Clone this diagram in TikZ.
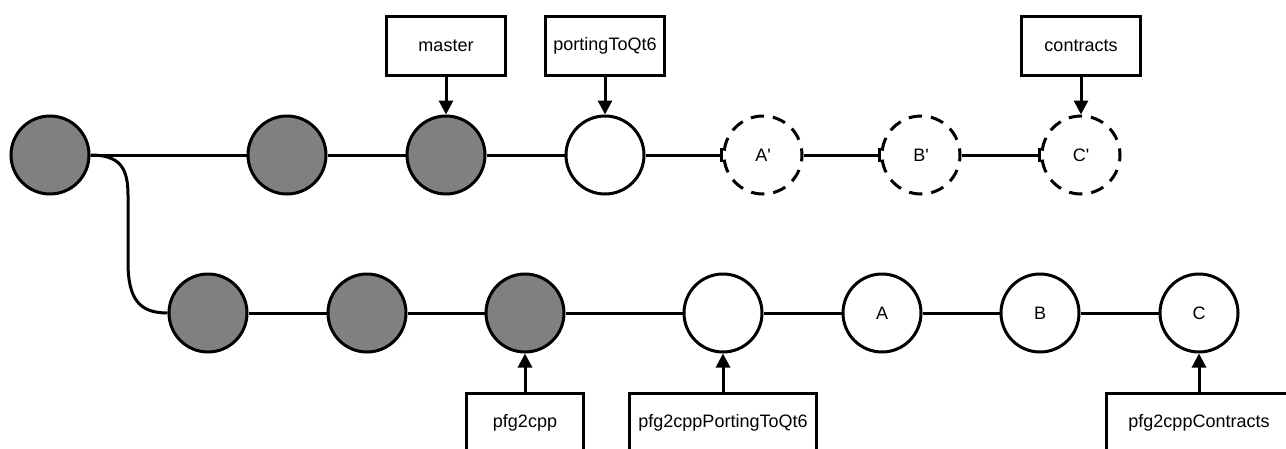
\documentclass[tikz,border=0pt]{standalone}
\usepackage{fontspec}
\setmainfont{Liberation Sans}
\usetikzlibrary{arrows.meta}
\definecolor{donegray}{HTML}{808080}
\begin{document}
\begin{tikzpicture}[x=1pt,y=-1pt,
  label font/.style={font=\fontsize{18}{21}\selectfont},
  commit/.style={circle,draw,line width=3pt,minimum size=78pt,inner sep=0pt,label font},
  done/.style={commit,fill=donegray},
  fresh/.style={commit,fill=white},
  planned/.style={commit,fill=white,dash pattern=on 13.3pt off 9pt,dash phase=6.65pt},
  ref/.style={draw,line width=3pt,minimum height=59pt,inner sep=0pt,fill=white,label font},
  link/.style={line width=3pt},
  tee/.style={link,-{Bar[width=14pt,line width=3pt]}},
  pointer/.style={line width=3pt,-{Triangle[length=14pt,width=14pt]}}
]
\useasboundingbox (0,0) rectangle (1286,448);

% upstream line
\node[done]    (m0) at (50,155)  {};
\node[done]    (m1) at (287,155) {};
\node[done]    (m2) at (446,155) {};
\node[fresh]   (m3) at (605,155) {};
\node[planned] (ap) at (763,155) {A\textquotesingle};
\node[planned] (bp) at (921,155) {B\textquotesingle};
\node[planned] (cp) at (1081,155) {C\textquotesingle};

% pfg2cpp line
\node[done]  (p0) at (208,313)  {};
\node[done]  (p1) at (367,313)  {};
\node[done]  (p2) at (525,313)  {};
\node[fresh] (p3) at (723,313)  {};
\node[fresh] (pa) at (882,313)  {A};
\node[fresh] (pb) at (1040,313) {B};
\node[fresh] (pc) at (1199,313) {C};

% history links
\draw[link] (m0) -- (m1);
\draw[link] (m1) -- (m2);
\draw[link] (m2) -- (m3);
\draw[tee]  (m3) -- (ap);
\draw[tee]  (ap) -- (bp);
\draw[tee]  (bp) -- (cp);
\coordinate (bendtop) at (128,195);
\coordinate (bendbot) at (128,262);
\draw[link] (m0.east) .. controls (120,155) and (128,168) .. (bendtop)
  -- (bendbot) .. controls (128,300) and (140,313) .. (p0.west);
\draw[link] (p0) -- (p1);
\draw[link] (p1) -- (p2);
\draw[link] (p2) -- (p3);
\draw[link] (p3) -- (pa);
\draw[link] (pa) -- (pb);
\draw[link] (pb) -- (pc);

% branch labels
\node[ref,minimum width=119pt] (master)    at (446,46)  {master};
\node[ref,minimum width=119pt] (porting)   at (605,46)  {portingToQt6};
\node[ref,minimum width=119pt] (contracts) at (1081,46) {contracts};
\node[ref,minimum width=117pt] (pfg)          at (525,423)  {pfg2cpp};
\node[ref,minimum width=187pt] (pfgporting)   at (723,423)  {pfg2cppPortingToQt6};
\node[ref,minimum width=185pt] (pfgcontracts) at (1199,423) {pfg2cppContracts};

\draw[pointer] (master) -- (m2);
\draw[pointer] (porting) -- (m3);
\draw[pointer] (contracts) -- (cp);
\draw[pointer] (pfg) -- (p2);
\draw[pointer] (pfgporting) -- (p3);
\draw[pointer] (pfgcontracts) -- (pc);
\end{tikzpicture}
\end{document}
